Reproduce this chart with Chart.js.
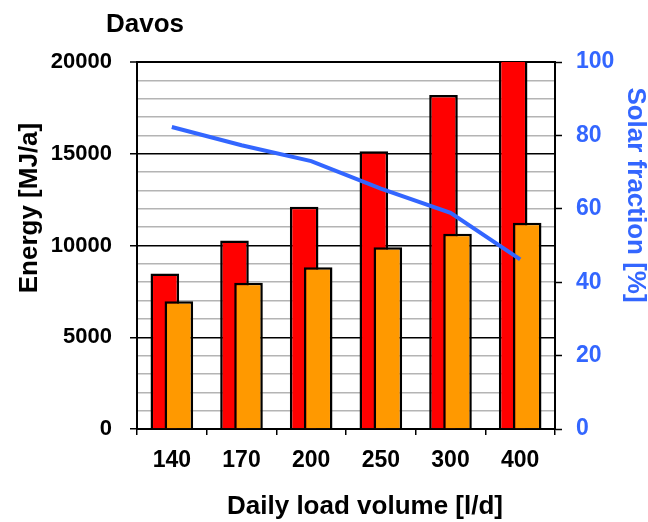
<!DOCTYPE html>
<html>
<head>
<meta charset="utf-8">
<script src="https://cdn.jsdelivr.net/npm/chart.js@4/dist/chart.umd.min.js"></script>
<style>
html,body{margin:0;padding:0;background:#fff;}
#wrap{width:648px;height:522px;position:relative;}
</style>
</head>
<body>
<div id="wrap"><canvas id="c" width="648" height="522"></canvas></div>
<script>
const categories = ['140', '170', '200', '250', '300', '400'];
const energyRed = [8470, 10270, 12110, 15140, 18200, 21500];
const energyOrange = [6960, 7970, 8820, 9910, 10640, 11240];
const solarFraction = [82.3, 77.3, 73.0, 65.5, 58.9, 46.2];
const energyTicks = [0, 5000, 10000, 15000, 20000];
const fractionTicks = [0, 20, 40, 60, 80, 100];

const FONT = "'Liberation Sans', Arial, sans-serif";
const BLUE = '#3366ff';

const textPlugin = {
  id: 'textLabels',
  afterDraw(chart) {
    const ctx = chart.ctx;
    ctx.save();
    ctx.font = "bold 26px " + FONT;
    ctx.fillStyle = '#000';
    ctx.textAlign = 'left';
    ctx.textBaseline = 'alphabetic';
    ctx.fillText('Davos', 106, 31.5);

    ctx.textAlign = 'center';
    ctx.fillText('Daily load volume [l/d]', 365, 514);

    ctx.textBaseline = 'middle';
    ctx.save();
    ctx.translate(30, 208);
    ctx.rotate(-Math.PI / 2);
    ctx.fillText('Energy [MJ/a]', 0, 0);
    ctx.restore();

    ctx.save();
    ctx.fillStyle = BLUE;
    ctx.translate(635, 195);
    ctx.rotate(Math.PI / 2);
    ctx.fillText('Solar fraction [%]', 0, 0);
    ctx.restore();
    ctx.restore();
  }
};

const barGeom = { categoryPercentage: 0.4024, barPercentage: 2.04 };

new Chart(document.getElementById('c'), {
  type: 'bar',
  data: {
    labels: categories,
    datasets: [
      {
        type: 'line', label: 'Solar fraction', data: solarFraction,
        yAxisID: 'y1', order: 0,
        borderColor: BLUE, borderWidth: 4, pointRadius: 0, tension: 0, fill: false
      },
      Object.assign({
        label: 'spacer', data: [], yAxisID: 'y', order: 1, stack: 'A',
        backgroundColor: 'transparent', borderWidth: 0
      }, barGeom),
      Object.assign({
        label: 'Orange', data: energyOrange, yAxisID: 'y', order: 1, stack: 'B',
        backgroundColor: '#ff9900', borderColor: '#000', borderWidth: 2.5, clip: 0
      }, barGeom),
      Object.assign({
        label: 'Red', data: energyRed, yAxisID: 'y', order: 2, stack: 'A',
        backgroundColor: '#ff0000', borderColor: '#000', borderWidth: 2.5, clip: 0
      }, barGeom)
    ]
  },
  options: {
    responsive: false,
    animation: false,
    layout: { padding: { top: 62, left: 0, right: 0, bottom: 0 } },
    plugins: { legend: { display: false }, tooltip: { enabled: false } },
    scales: {
      x: {
        type: 'category', position: 'bottom', offset: true,
        grid: { offset: true, drawOnChartArea: false, drawTicks: true, tickLength: 6, color: '#000', lineWidth: 1.5 },
        border: { display: true, color: '#000', width: 2 },
        ticks: { color: '#000', font: { family: FONT, size: 23, weight: 'bold' }, padding: 12, maxRotation: 0 },
        afterFit(s) { s.height = 93; }
      },
      y: {
        type: 'linear', position: 'left', min: 0, max: 20000, stacked: false,
        afterBuildTicks(s) {
          const t = [];
          for (let v = 0; v <= 20000; v += 1000) t.push({ value: v });
          s.ticks = t;
        },
        ticks: {
          autoSkip: false, color: '#000', padding: 18,
          font: { family: FONT, size: 22, weight: 'bold' },
          callback: (v) => energyTicks.includes(v) ? String(v) : ''
        },
        grid: {
          drawTicks: true, tickLength: 7,
          color: (c) => (c.tick && energyTicks.includes(c.tick.value)) ? '#000' : '#b4b4b4',
          lineWidth: (c) => (c.tick && c.tick.value === 20000) ? 2 : 1.5,
          tickColor: (c) => (c.tick && energyTicks.includes(c.tick.value)) ? '#000' : 'rgba(0,0,0,0)',
          tickWidth: 1.5
        },
        border: { display: true, color: '#000', width: 2 },
        afterFit(s) { s.width = 137; }
      },
      y1: {
        type: 'linear', position: 'right', min: 0, max: 100,
        afterBuildTicks(s) { s.ticks = fractionTicks.map(v => ({ value: v })); },
        ticks: { autoSkip: false, color: BLUE, padding: 14, font: { family: FONT, size: 23, weight: 'bold' } },
        grid: { drawOnChartArea: false, drawTicks: true, tickLength: 7, tickColor: '#000', tickWidth: 1.5 },
        border: { display: true, color: '#000', width: 2 },
        afterFit(s) { s.width = 93; }
      }
    }
  },
  plugins: [textPlugin]
});
</script>
</body>
</html>
